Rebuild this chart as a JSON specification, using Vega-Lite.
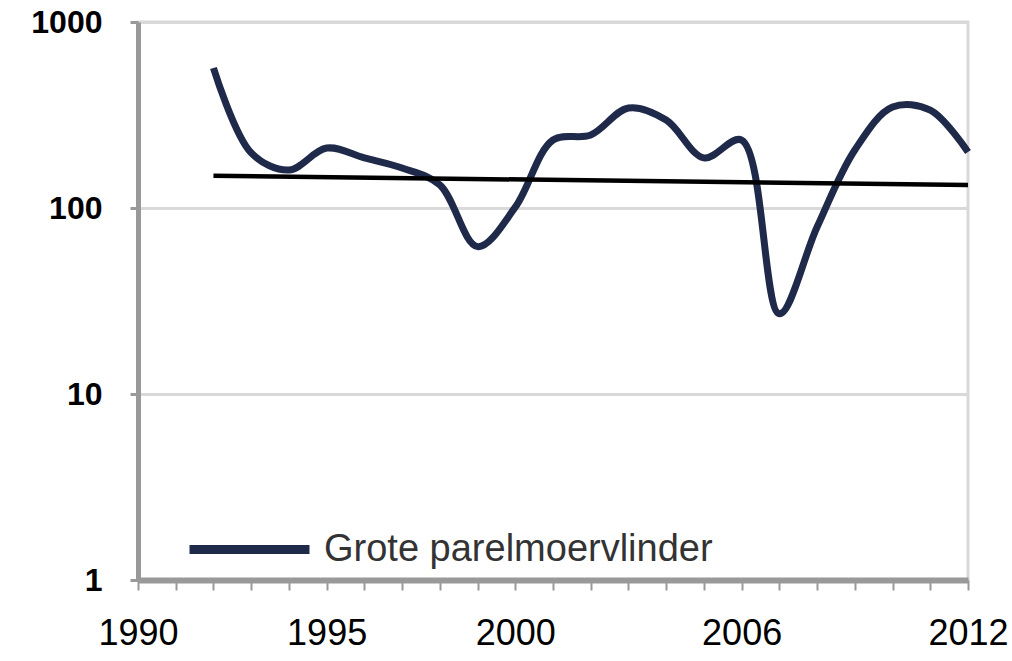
{
  "$schema": "https://vega.github.io/schema/vega-lite/v6.json",
  "width": 830,
  "height": 558,
  "autosize": {"type": "none"},
  "padding": {"left": 138, "top": 22, "right": 44, "bottom": 81},
  "background": "white",
  "config": {
    "view": {"stroke": "#d9d9d9", "strokeWidth": 3},
    "font": "Liberation Sans"
  },
  "datasets": {
    "counts": [
      {"year": 1992, "count": 566, "series": "Grote parelmoervlinder"},
      {"year": 1993, "count": 198, "series": "Grote parelmoervlinder"},
      {"year": 1994, "count": 160, "series": "Grote parelmoervlinder"},
      {"year": 1995, "count": 210, "series": "Grote parelmoervlinder"},
      {"year": 1996, "count": 186, "series": "Grote parelmoervlinder"},
      {"year": 1997, "count": 164, "series": "Grote parelmoervlinder"},
      {"year": 1998, "count": 133, "series": "Grote parelmoervlinder"},
      {"year": 1999, "count": 62, "series": "Grote parelmoervlinder"},
      {"year": 2000, "count": 101, "series": "Grote parelmoervlinder"},
      {"year": 2001, "count": 232, "series": "Grote parelmoervlinder"},
      {"year": 2002, "count": 247, "series": "Grote parelmoervlinder"},
      {"year": 2003, "count": 345, "series": "Grote parelmoervlinder"},
      {"year": 2004, "count": 297, "series": "Grote parelmoervlinder"},
      {"year": 2005, "count": 186, "series": "Grote parelmoervlinder"},
      {"year": 2006, "count": 232, "series": "Grote parelmoervlinder"},
      {"year": 2007, "count": 27, "series": "Grote parelmoervlinder"},
      {"year": 2008, "count": 79, "series": "Grote parelmoervlinder"},
      {"year": 2009, "count": 205, "series": "Grote parelmoervlinder"},
      {"year": 2010, "count": 349, "series": "Grote parelmoervlinder"},
      {"year": 2011, "count": 336, "series": "Grote parelmoervlinder"},
      {"year": 2012, "count": 200, "series": "Grote parelmoervlinder"}
    ],
    "trend": [
      {"year": 1992, "trend": 149},
      {"year": 2012, "trend": 133}
    ]
  },
  "resolve": {"axis": {"x": "independent"}},
  "layer": [
    {
      "data": {"name": "counts"},
      "mark": {"type": "line", "strokeWidth": 7, "interpolate": "catmull-rom", "strokeCap": "butt"},
      "encoding": {
        "x": {
          "field": "year", "type": "quantitative",
          "scale": {"domain": [1990, 2012], "nice": false, "zero": false},
          "axis": {
            "title": null,
            "orient": "bottom",
            "values": [1990,1991,1992,1993,1994,1995,1996,1997,1998,1999,2000,2001,2002,2003,2004,2005,2006,2007,2008,2009,2010,2011,2012],
            "labels": false,
            "grid": false,
            "domainColor": "#999999", "domainWidth": 6,
            "tickColor": "#999999", "tickWidth": 2, "tickSize": 10
          }
        },
        "y": {
          "field": "count", "type": "quantitative",
          "scale": {"type": "log", "domain": [1, 1000], "nice": false},
          "axis": {
            "title": null,
            "values": [1, 10, 100, 1000],
            "format": "d",
            "grid": true, "gridColor": "#d9d9d9", "gridWidth": 3,
            "domainColor": "#999999", "domainWidth": 5,
            "tickColor": "#999999", "tickWidth": 3, "tickSize": 8,
            "labelFontSize": 32, "labelColor": "#000000", "labelPadding": 28,
            "labelFontWeight": "bold"
          }
        },
        "color": {
          "field": "series", "type": "nominal",
          "scale": {"range": ["#1f2a4a"]},
          "legend": {
            "title": null,
            "orient": "none",
            "legendX": 47,
            "legendY": 463,
            "symbolType": "stroke",
            "symbolSize": 14400,
            "symbolStrokeWidth": 9,
            "labelFontSize": 38,
            "labelColor": "#333333",
            "labelOffset": 10,
            "labelLimit": 0,
            "padding": 0
          }
        }
      }
    },
    {
      "data": {"name": "trend"},
      "mark": {"type": "line", "color": "#000000", "strokeWidth": 4.5},
      "encoding": {
        "x": {
          "field": "year", "type": "quantitative",
          "axis": {
            "title": null,
            "orient": "bottom",
            "values": [1990, 1995, 2000, 2006, 2012],
            "format": "d",
            "domain": false,
            "ticks": false,
            "grid": false,
            "labelFontSize": 36, "labelColor": "#000000", "labelPadding": 36,
            "labelOverlap": false, "labelFlush": false
          }
        },
        "y": {"field": "trend", "type": "quantitative"}
      }
    }
  ]
}
